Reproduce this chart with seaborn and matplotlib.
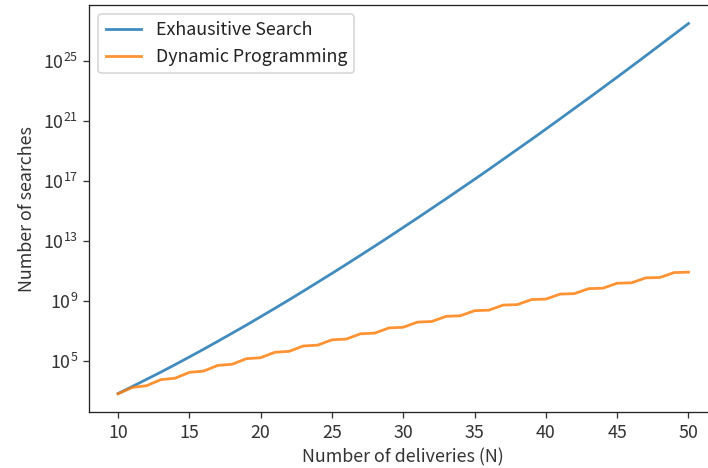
import numpy as np
import pandas as pd
import matplotlib
matplotlib.use("Agg")
import matplotlib.pyplot as plt
import seaborn as sns

# Data
n_deliveries = list(range(10, 51))

exhaustive_search = [
    6.31e2, 1.86e3, 5.62e3, 1.70e4, 5.37e4, 1.74e5, 5.75e5, 1.95e6, 6.76e6, 2.34e7,
    8.51e7, 3.09e8, 1.15e9, 4.37e9, 1.70e10, 6.61e10, 2.63e11, 1.07e12, 4.37e12, 1.82e13,
    7.76e13, 3.31e14, 1.45e15, 6.31e15, 2.82e16, 1.26e17, 5.75e17, 2.69e18, 1.26e19, 5.89e19,
    2.82e20, 1.38e21, 6.76e21, 3.31e22, 1.66e23, 8.32e23, 4.27e24, 2.19e25, 1.15e26, 6.03e26,
    3.16e27,
]

dynamic_programming = [
    6.1e2, 1.62e3, 2.11e3, 5.36e3, 6.68e3, 1.64e4, 2.00e4, 4.79e4, 5.69e4, 1.34e5,
    1.56e5, 3.61e5, 4.15e5, 9.48e5, 1.08e6, 2.44e6, 2.74e6, 6.14e6, 6.84e6, 1.52e7,
    1.68e7, 3.72e7, 4.08e7, 9.00e7, 9.82e7, 2.14e8, 2.33e8, 5.07e8, 5.48e8, 1.19e9,
    1.28e9, 2.75e9, 2.96e9, 6.35e9, 6.81e9, 1.46e10, 1.56e10, 3.32e10, 3.54e10, 7.52e10,
    8.00e10,
]

series_names = ["Exhausitive Search", "Dynamic Programming"]
x_label = "Number of deliveries (N)"
y_label = "Number of searches"

df = pd.DataFrame({
    "N": n_deliveries * 2,
    "value": exhaustive_search + dynamic_programming,
    "method": [series_names[0]] * len(n_deliveries) + [series_names[1]] * len(n_deliveries),
})

plt.rcParams["font.family"] = ["Noto Sans CJK JP", "DejaVu Sans"]
plt.rcParams["axes.unicode_minus"] = False

dpi = 117
fig = plt.figure(figsize=(708 / dpi, 468 / dpi), dpi=dpi)
W, H = 708, 468
ax = fig.add_axes([89.5 / W, (H - 412.3) / H, (717 - 89.5) / W, (412.3 - 5) / H])

sns.lineplot(data=df, x="N", y="value", hue="method", hue_order=series_names,
             palette=["#1f77b4", "#ff7f0e"], linewidth=1.7, ax=ax, alpha=0.85)
ax.set_yscale("log")
ax.set_xlabel(x_label, fontsize=11, color="#333333")
ax.set_ylabel(y_label, fontsize=11, color="#333333")
ax.set_xticks([10, 15, 20, 25, 30, 35, 40, 45, 50])
ax.set_yticks([1e5, 1e9, 1e13, 1e17, 1e21, 1e25])
ax.minorticks_off()
ax.margins(x=0.05, y=0.05)
ax.tick_params(labelsize=11, colors="#333333")
for s in ax.spines.values():
    s.set_color("#222222")

leg = ax.legend(loc="upper left", fontsize=11, title=None, frameon=True)
for t in leg.get_texts():
    t.set_color("#222222")

fig.savefig("out.png", dpi=dpi)
